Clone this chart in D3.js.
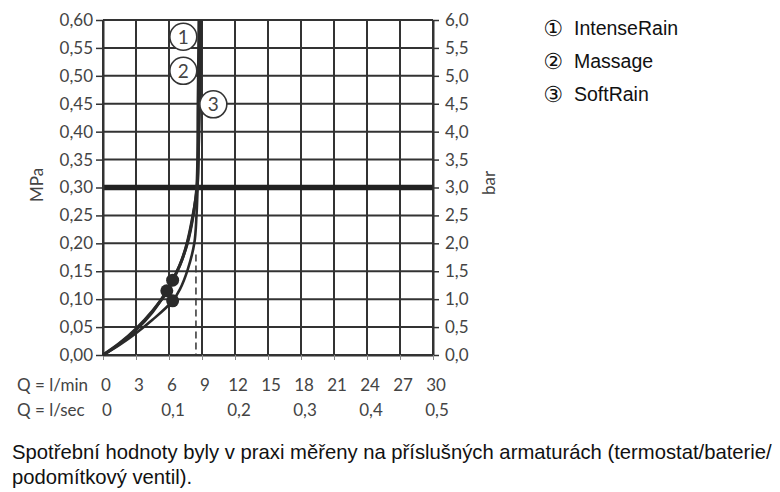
<!DOCTYPE html>
<html>
<head>
<meta charset="utf-8">
<script src="https://cdn.jsdelivr.net/npm/d3@7"></script>
<style>
  body { margin: 0; background: #fff; }
  svg { display: block; }
</style>
</head>
<body>
<div id="chart"></div>
<script>
// flow (l/min) vs pressure (MPa)
var flowTicks = [0, 3, 6, 9, 12, 15, 18, 21, 24, 27, 30]
var secTicks = [0, 0.1, 0.2, 0.3, 0.4, 0.5]
var mpaTicks = [0, 0.05, 0.1, 0.15, 0.2, 0.25, 0.3, 0.35, 0.4, 0.45, 0.5, 0.55, 0.6]
var barTicks = [0, 0.5, 1, 1.5, 2, 2.5, 3, 3.5, 4, 4.5, 5, 5.5, 6]

var seriesNames = ["IntenseRain", "Massage", "SoftRain"]
var intenseRain = [[0, 0], [1.5, 0.021], [3, 0.047], [4.5, 0.079], [5.8, 0.113], [6.33, 0.134], [7, 0.162], [7.67, 0.2], [8.2, 0.25], [8.52, 0.3], [8.64, 0.45], [8.72, 0.6]]
var massage = [[0, 0], [1.5, 0.02], [3, 0.045], [4.5, 0.077], [5.8, 0.115], [6.4, 0.136], [7.1, 0.166], [7.7, 0.205], [8.22, 0.255], [8.56, 0.3], [8.72, 0.45], [8.84, 0.6]]
var softRain = [[0, 0], [1.5, 0.018], [3, 0.039], [4.5, 0.063], [6.33, 0.097], [7, 0.118], [7.7, 0.153], [8.3, 0.2], [8.5, 0.25], [8.6, 0.3], [8.8, 0.45], [8.95, 0.6]]
var curves = [intenseRain, massage, softRain]

// operating points (dots) and the number badges on the curves
var dots = [[6.33, 0.134], [5.8, 0.115], [6.33, 0.097]]
var badges = [[7.3, 0.57], [7.3, 0.509], [10.03, 0.449]]
var limiterFlow = 8.45, limiterTop = 0.18
var refPressure = 0.3

var note1 = "Spotřební hodnoty byly v praxi měřeny na příslušných armaturách (termostat/baterie/"
var note2 = "podomítkový ventil)."

var W = 780, H = 492
var svg = d3.select("#chart").append("svg")
  .attr("width", W).attr("height", H)
svg.append("rect").attr("width", W).attr("height", H).attr("fill", "#fff")

var x = d3.scaleLinear().domain([0, 30]).range([103, 433])
var y = d3.scaleLinear().domain([0, 0.6]).range([355, 20])
var yBar = d3.scaleLinear().domain([0, 6]).range([355, 20])

var loc = d3.formatLocale({ decimal: ",", thousands: " ", grouping: [3], currency: ["", ""] })
var f2 = loc.format(".2f"), f1 = loc.format(".1f")

var gridColor = "#333"
var axisFont = "Lato, 'Open Sans', sans-serif"
var textColor = "#444"

// grid
var grid = svg.append("g")
grid.selectAll(".v").data(flowTicks).enter().append("line")
  .attr("x1", d => x(d)).attr("x2", d => x(d))
  .attr("y1", y(0.6)).attr("y2", y(0))
  .attr("stroke", gridColor).attr("stroke-width", 2)
grid.selectAll(".h").data(mpaTicks).enter().append("line")
  .attr("x1", x(0)).attr("x2", x(30))
  .attr("y1", d => y(d)).attr("y2", d => y(d))
  .attr("stroke", gridColor).attr("stroke-width", 2)

// reference line at 0,30 MPa
svg.append("line")
  .attr("x1", x(0)).attr("x2", x(30))
  .attr("y1", y(refPressure)).attr("y2", y(refPressure))
  .attr("stroke", "#222").attr("stroke-width", 5.5)

// axes
var left = svg.append("g").attr("transform", "translate(" + x(0) + ",0)")
  .call(d3.axisLeft(y).tickValues(mpaTicks).tickSizeInner(7).tickSizeOuter(0).tickPadding(3).tickFormat(f2))
var right = svg.append("g").attr("transform", "translate(" + x(30) + ",0)")
  .call(d3.axisRight(yBar).tickValues(barTicks).tickSizeInner(6).tickSizeOuter(0).tickPadding(6).tickFormat(f1))
var bottom = svg.append("g").attr("transform", "translate(0," + y(0) + ")")
  .call(d3.axisBottom(x).tickValues(flowTicks).tickSizeInner(5).tickSizeOuter(0).tickFormat(""))

;[left, right, bottom].forEach(function(g) {
  g.select(".domain").attr("stroke", gridColor).attr("stroke-width", 2)
  g.selectAll(".tick line").attr("stroke", gridColor).attr("stroke-width", 1.5)
  g.selectAll("text").attr("fill", textColor).style("font-family", axisFont).style("font-size", "17px")
})
bottom.selectAll(".tick line").attr("stroke", "#888").attr("stroke-width", 1)

// flow labels
var xl = svg.append("g").style("font-family", axisFont).style("font-size", "17px").attr("fill", textColor)
xl.selectAll(".m").data(flowTicks).enter().append("text")
  .attr("x", d => x(d) + 3).attr("y", 391).attr("text-anchor", "middle").text(d => d)
xl.selectAll(".s").data(secTicks).enter().append("text")
  .attr("x", d => x(d * 60) + 4).attr("y", 416).attr("text-anchor", "middle")
  .text(d => d === 0 ? "0" : f1(d))
xl.append("text").attr("x", 17).attr("y", 391).text("Q = l/min")
xl.append("text").attr("x", 17).attr("y", 416).text("Q = l/sec")

// axis titles
svg.append("text").attr("transform", "translate(43,185) rotate(-90)")
  .attr("text-anchor", "middle").style("font-family", axisFont).style("font-size", "17px")
  .attr("fill", textColor).text("MPa")
svg.append("text").attr("transform", "translate(495,183) rotate(-90)")
  .attr("text-anchor", "middle").style("font-family", axisFont).style("font-size", "17px")
  .attr("fill", textColor).text("bar")

// flow limiter dashed line
svg.append("line")
  .attr("x1", x(limiterFlow)).attr("x2", x(limiterFlow))
  .attr("y1", y(limiterTop)).attr("y2", y(0))
  .attr("stroke", "#333").attr("stroke-width", 1.5).attr("stroke-dasharray", "7,4")

// curves
var line = d3.line().x(d => x(d[0])).y(d => y(d[1])).curve(d3.curveCatmullRom.alpha(0.5))
svg.selectAll(".curve").data(curves).enter().append("path")
  .attr("d", line).attr("fill", "none")
  .attr("stroke", "#2a2a2a").attr("stroke-width", (d, i) => i === 2 ? 2.6 : 3)

svg.selectAll(".dot").data(dots).enter().append("circle")
  .attr("cx", d => x(d[0])).attr("cy", d => y(d[1])).attr("r", 6.5)
  .attr("fill", "#2a2a2a")

// number badges
var bg = svg.selectAll(".badge").data(badges).enter().append("g")
  .attr("transform", d => "translate(" + x(d[0]) + "," + y(d[1]) + ")")
bg.append("circle").attr("r", 13.5).attr("fill", "#fff").attr("stroke", "#333").attr("stroke-width", 1.6)
bg.append("text").attr("text-anchor", "middle").attr("dy", "0.36em")
  .style("font-family", axisFont).style("font-size", "19px").attr("fill", "#444")
  .text((d, i) => i + 1)

// legend
var marks = ["\u2460", "\u2461", "\u2462"]
var lg = svg.append("g")
seriesNames.forEach(function(name, i) {
  var yy = 35 + i * 33
  lg.append("text").attr("x", 553).attr("y", yy + 1).attr("text-anchor", "middle")
    .style("font-family", "'DejaVu Sans', sans-serif").style("font-size", "22px").attr("fill", "#111")
    .text(marks[i])
  lg.append("text").attr("x", 574).attr("y", yy)
    .style("font-family", "'Liberation Sans', Arial, sans-serif").style("font-size", "19.5px").attr("fill", "#111")
    .text(name)
})

// footnote
var n1 = svg.append("text").attr("x", 12).attr("y", 459)
  .style("font-family", "'Liberation Sans', Arial, sans-serif").style("font-size", "18px").attr("fill", "#111")
  .text(note1)
var w1 = n1.node().getComputedTextLength()
var fs = 18 * 760 / w1
n1.style("font-size", fs + "px")
svg.append("text").attr("x", 12).attr("y", 484)
  .style("font-family", "'Liberation Sans', Arial, sans-serif").style("font-size", fs + "px").attr("fill", "#111")
  .text(note2)
</script>
</body>
</html>
